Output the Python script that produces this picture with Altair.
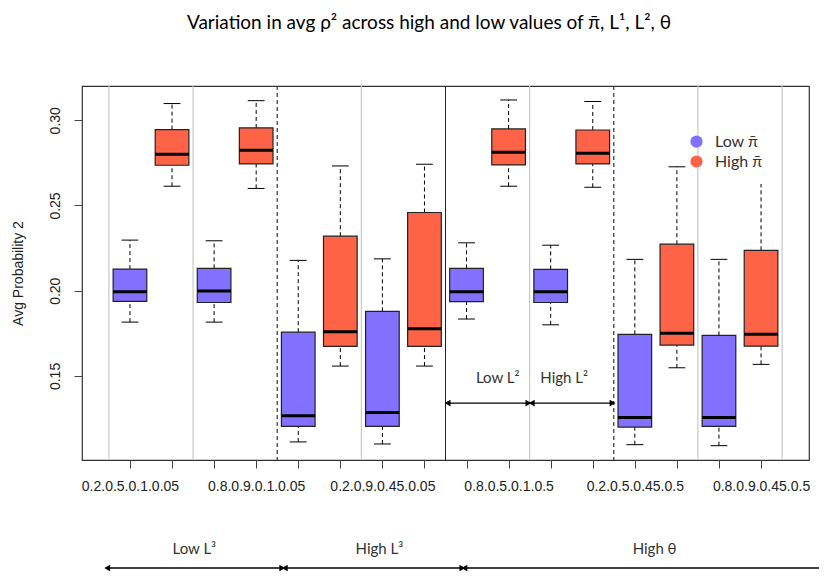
import altair as alt
import pandas as pd

# ---- data ----
positions = list(range(1, 17))
groups = ["Low", "High"] * 8
tick_labels = [
    "0.2.0.5.0.1.0.05", "0.8.0.5.0.1.0.05", "0.2.0.9.0.1.0.05", "0.8.0.9.0.1.0.05",
    "0.2.0.5.0.45.0.05", "0.8.0.5.0.45.0.05", "0.2.0.9.0.45.0.05", "0.8.0.9.0.45.0.05",
    "0.2.0.5.0.1.0.5", "0.8.0.5.0.1.0.5", "0.2.0.9.0.1.0.5", "0.8.0.9.0.1.0.5",
    "0.2.0.5.0.45.0.5", "0.8.0.5.0.45.0.5", "0.2.0.9.0.45.0.5", "0.8.0.9.0.45.0.5",
]
shown_label_positions = [1, 4, 7, 10, 13, 16]
lower_whisker = [0.1816, 0.2613, 0.1816, 0.2600, 0.1113, 0.1558, 0.1101, 0.1558,
                 0.1834, 0.2613, 0.1800, 0.2607, 0.1097, 0.1548, 0.1091, 0.1568]
q1 = [0.1937, 0.2736, 0.1931, 0.2744, 0.1204, 0.1674, 0.1204, 0.1674,
      0.1936, 0.2738, 0.1931, 0.2744, 0.1200, 0.1681, 0.1204, 0.1675]
median = [0.1994, 0.2801, 0.1999, 0.2824, 0.1267, 0.1759, 0.1285, 0.1777,
          0.1994, 0.2812, 0.1994, 0.2807, 0.1256, 0.1750, 0.1256, 0.1744]
q3 = [0.2127, 0.2945, 0.2131, 0.2955, 0.1757, 0.2320, 0.1879, 0.2459,
      0.2131, 0.2949, 0.2125, 0.2943, 0.1744, 0.2273, 0.1738, 0.2237]
upper_whisker = [0.2297, 0.3098, 0.2293, 0.3115, 0.2178, 0.2732, 0.2187, 0.2742,
                 0.2281, 0.3119, 0.2267, 0.3110, 0.2184, 0.2727, 0.2184, 0.2730]

gray_separators = [0.5, 2.5, 6.5, 10.5, 14.5, 16.5]
dashed_separators = [4.5, 12.5]
solid_separators = [8.5]

y_ticks = [0.15, 0.20, 0.25, 0.30]
legend_labels = ["Low π̄", "High π̄"]
colors = ["#8470FF", "#FF6347"]

inner_arrow_labels = ["Low L²", "High L²"]
inner_arrow_start = [8.55, 10.55]
inner_arrow_end = [10.47, 12.47]
inner_arrow_label_x = [9.74, 11.32]
inner_arrow_y = 0.1341
inner_label_y = 0.1488

bottom_labels = ["Low L³", "High L³", "High θ"]
bottom_arrow_start = [0.46, 4.68, 8.95]
bottom_arrow_end = [4.62, 8.90, 17.6]
bottom_label_x = [2.53, 6.93, 13.47]

# ---- tables ----
box_df = pd.DataFrame({
    "pos": positions, "group": groups, "lw": lower_whisker, "q1": q1,
    "med": median, "q3": q3, "uw": upper_whisker,
})
sep_df = pd.DataFrame({
    "x": gray_separators + dashed_separators + solid_separators,
    "kind": ["gray"] * len(gray_separators) + ["dashed"] * len(dashed_separators)
            + ["solid"] * len(solid_separators),
})
inner_df = pd.DataFrame({"label": inner_arrow_labels, "x0": inner_arrow_start,
                         "x1": inner_arrow_end, "lx": inner_arrow_label_x,
                         "y": [inner_arrow_y] * 2, "ly": [inner_label_y] * 2})
bottom_df = pd.DataFrame({"label": bottom_labels, "x0": bottom_arrow_start,
                          "x1": bottom_arrow_end, "lx": bottom_label_x})
legend_df = pd.DataFrame({"label": legend_labels, "group": ["Low", "High"]})

label_expr = " : ".join(
    f"datum.value == {p} ? '{tick_labels[p - 1]}'" for p in shown_label_positions
) + " : ''"

x_scale = alt.Scale(domain=[-0.14, 17.14], nice=False, zero=False)
y_scale = alt.Scale(domain=[0.1007, 0.3201], nice=False, zero=False)
color_scale = alt.Scale(domain=["Low", "High"], range=colors)

x_axis = alt.Axis(values=positions, labelExpr=label_expr, title=None, grid=False,
                  domain=False, tickSize=8, tickColor="#444", labelFont="Liberation Sans",
                  labelFontSize=14, labelColor="#222", labelPadding=11,
                  labelOverlap=False, labelFlush=False)
y_axis = alt.Axis(values=y_ticks, format=".2f", title="Avg Probability 2", grid=False,
                  domain=False, tickSize=8, tickColor="#444", labelAngle=-90,
                  labelAlign="center", labelBaseline="bottom",
                  labelFont="Liberation Sans", labelFontSize=14, labelColor="#222",
                  labelPadding=12, titleFont="Liberation Sans", titleFontSize=14,
                  titleFontWeight="normal", titleColor="#222", titlePadding=23)

def X(field):
    return alt.X(field, type="quantitative", scale=x_scale, axis=x_axis)

def Y(field):
    return alt.Y(field, type="quantitative", scale=y_scale, axis=y_axis)

base = alt.Chart(box_df).transform_calculate(
    xl="datum.pos - 0.4", xr="datum.pos + 0.4",
    cl="datum.pos - 0.2", cr="datum.pos + 0.2",
)

whisk_up = base.mark_rule(color="black", strokeWidth=1, strokeDash=[4, 3]).encode(
    x=X("pos"), y=Y("q3"), y2="uw")
whisk_dn = base.mark_rule(color="black", strokeWidth=1, strokeDash=[4, 3]).encode(
    x=X("pos"), y=Y("lw"), y2="q1")
cap_up = base.mark_rule(color="black", strokeWidth=1).encode(
    x=X("cl"), x2="cr", y=Y("uw"))
cap_dn = base.mark_rule(color="black", strokeWidth=1).encode(
    x=X("cl"), x2="cr", y=Y("lw"))
boxes = base.mark_bar(stroke="#222", strokeWidth=1.2).encode(
    x=X("xl"), x2="xr", y=Y("q1"), y2="q3",
    fill=alt.Fill("group:N", scale=color_scale, legend=None))
medians = base.mark_rule(color="black", strokeWidth=3).encode(
    x=X("xl"), x2="xr", y=Y("med"))

# white background of the pasted legend
legend_bg = alt.Chart(legend_df).transform_filter("datum.group == 'Low'").mark_rect(
    color="white").encode(x=alt.value(606), x2=alt.value(699),
                          y=alt.value(40), y2=alt.value(98))

seps_gray = alt.Chart(sep_df).transform_filter("datum.kind == 'gray'").mark_rule(
    color="#c8c8c8", strokeWidth=1.2).encode(x=X("x"))
seps_dash = alt.Chart(sep_df).transform_filter("datum.kind == 'dashed'").mark_rule(
    color="#333", strokeWidth=1.2, strokeDash=[4, 3]).encode(x=X("x"))
seps_solid = alt.Chart(sep_df).transform_filter("datum.kind == 'solid'").mark_rule(
    color="#222", strokeWidth=1).encode(x=X("x"))

legend_layers = []
for grp, ypx in (("Low", 55.7), ("High", 75.5)):
    sub = alt.Chart(legend_df).transform_filter(f"datum.group == '{grp}'")
    legend_layers.append(sub.mark_point(filled=True, size=150, opacity=1).encode(
        x=alt.value(614.5), y=alt.value(ypx),
        fill=alt.Fill("group:N", scale=color_scale, legend=None)))
    legend_layers.append(sub.mark_text(align="left", baseline="middle", font="Lato",
                                       fontSize=16, color="#333").encode(
        x=alt.value(633), y=alt.value(ypx), text="label:N"))

inner_line = alt.Chart(inner_df).mark_rule(color="black", strokeWidth=1.3).encode(
    x=X("x0"), x2="x1", y=Y("y"))
inner_l = alt.Chart(inner_df).mark_point(shape="triangle-left", filled=True, size=45,
                                         color="black", opacity=1).encode(x=X("x0"), y=Y("y"))
inner_r = alt.Chart(inner_df).mark_point(shape="triangle-right", filled=True, size=45,
                                         color="black", opacity=1).encode(x=X("x1"), y=Y("y"))
inner_t = alt.Chart(inner_df).mark_text(font="Lato", fontSize=15, color="#333").encode(
    x=X("lx"), y=Y("ly"), text="label:N")

bot_line = alt.Chart(bottom_df).mark_rule(color="black", strokeWidth=1.3, clip=False).encode(
    x=X("x0"), x2="x1", y=alt.value(482))
bot_l = alt.Chart(bottom_df).mark_point(shape="triangle-left", filled=True, size=45,
                                        color="black", opacity=1, clip=False).encode(
    x=X("x0"), y=alt.value(482))
bot_r = alt.Chart(bottom_df).mark_point(shape="triangle-right", filled=True, size=45,
                                        color="black", opacity=1, clip=False).encode(
    x=X("x1"), y=alt.value(482))
bot_t = alt.Chart(bottom_df).mark_text(font="Lato", fontSize=15, color="#333",
                                       clip=False).encode(
    x=X("lx"), y=alt.value(463), text="label:N")

title = alt.Chart(legend_df).transform_filter("datum.group == 'Low'").mark_text(
    font="Lato", fontSize=19, color="black", clip=False, baseline="middle").encode(
    x=alt.value(347), y=alt.value(-63),
    text=alt.value("Variation in avg ρ² across high and low values of π̄, L¹, L², θ"))

chart = alt.layer(
    whisk_up, whisk_dn, cap_up, cap_dn, boxes, medians, legend_bg,
    seps_gray, seps_dash, seps_solid, *legend_layers,
    inner_line, inner_l, inner_r, inner_t, bot_line, bot_l, bot_r, bot_t, title,
).properties(
    width=727, height=374,
    autosize=alt.AutoSizeParams(type="none"),
    padding={"left": 74, "top": 78, "right": 10, "bottom": 111},
).configure_view(stroke="#333", strokeWidth=1.2)

chart.save("out.html", embed_options={"renderer": "svg", "actions": False})
